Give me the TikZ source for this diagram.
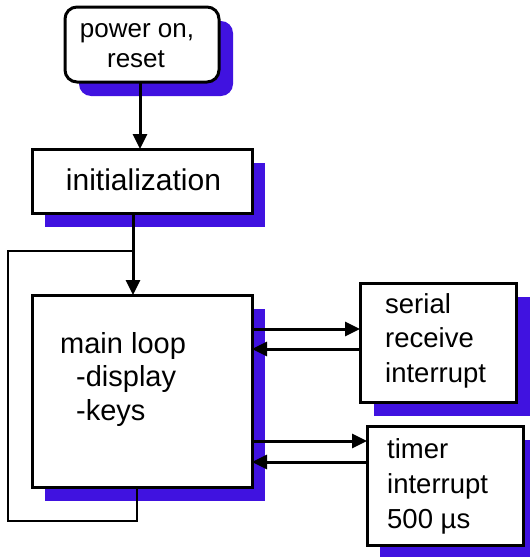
\documentclass[tikz,border=0pt]{standalone}
\usepackage{fontspec}
\setmainfont{Liberation Sans}
\usetikzlibrary{arrows.meta,backgrounds}
\definecolor{shadowblue}{RGB}{64,18,224}
\begin{document}
\begin{tikzpicture}[x=1pt,y=-1pt,
  box/.style={draw=black,line width=3pt,fill=white,inner sep=0pt,outer sep=0pt},
  arr/.style={line width=3pt,-{Triangle[length=15pt,width=14pt]}},
  loopline/.style={line width=2.3pt},
  shadowfill/.style={fill=shadowblue},
  txt/.style={inner sep=0pt,anchor=base west},
  ctxt/.style={inner sep=0pt,anchor=base}]
\useasboundingbox (0,0) rectangle (530,557);
% boxes
\node[box,rounded corners=12pt,minimum width=154pt,minimum height=75pt] (power) at (142,44.5) {};
\node[box,minimum width=220pt,minimum height=64pt] (init) at (142,181) {};
\node[box,minimum width=220pt,minimum height=192pt] (main) at (142,391) {};
\node[box,minimum width=156pt,minimum height=119pt] (serial) at (438,342.5) {};
\node[box,minimum width=156pt,minimum height=119pt] (timer) at (445,485.5) {};
% shadows
\begin{scope}[on background layer]
\fill[shadowfill,rounded corners=12pt] ([shift={(14,14)}]power.north west) rectangle ([shift={(14,14)}]power.south east);
\fill[shadowfill] ([shift={(13,14)}]init.north west) rectangle ([shift={(13,14)}]init.south east);
\fill[shadowfill] ([shift={(13,14)}]main.north west) rectangle ([shift={(13,14)}]main.south east);
\fill[shadowfill] ([shift={(14,14)}]serial.north west) rectangle ([shift={(14,14)}]serial.south east);
\fill[shadowfill] ([shift={(13,14)}]timer.north west) rectangle ([shift={(13,14)}]timer.south east);
\end{scope}
% texts
\node[ctxt,font=\fontsize{26}{30}\selectfont] (powerA) at (137,37) {power on,};
\node[ctxt,font=\fontsize{26}{30}\selectfont] (powerB) at (136,67) {reset};
\node[ctxt,font=\fontsize{30}{34}\selectfont] (initT) at (143.5,190) {initialization};
\node[txt,font=\fontsize{29}{33}\selectfont] (mainA) at (60,353) {main loop};
\node[txt,font=\fontsize{29}{33}\selectfont] (mainB) at (76,386) {-display};
\node[txt,font=\fontsize{29}{33}\selectfont] (mainC) at (76,420) {-keys};
\node[txt,font=\fontsize{27.5}{33}\selectfont] (serA) at (385,313) {serial};
\node[txt,font=\fontsize{27.5}{33}\selectfont] (serB) at (385,347) {receive};
\node[txt,font=\fontsize{27.5}{33}\selectfont] (serC) at (385,382) {interrupt};
\node[txt,font=\fontsize{27.5}{33}\selectfont] (timA) at (387,458) {timer};
\node[txt,font=\fontsize{27.5}{33}\selectfont] (timB) at (387,493) {interrupt};
\node[txt,font=\fontsize{27.5}{33}\selectfont] (timC) at (387,528) {500 µs};
% connectors
\draw[arr] ([xshift=-2pt]power.south) -- ([xshift=-2pt]init.north);
\draw[arr] ([xshift=-9pt]init.south) -- ([xshift=-9pt]main.north);
\coordinate (join) at (133,251);
\coordinate (loopTL) at (8,251);
\coordinate (loopBL) at (8,521);
\coordinate (loopBR) at (137,521);
\draw[loopline] ([xshift=-5pt]main.south) -- (loopBR) -- (loopBL) -- (loopTL) -- (join);
\coordinate (sOut) at (0,329);
\coordinate (sIn) at (0,349);
\coordinate (tOut) at (0,441);
\coordinate (tIn) at (0,462);
\draw[arr] (main.east |- sOut) -- (serial.west |- sOut);
\draw[arr] (serial.west |- sIn) -- (main.east |- sIn);
\draw[arr] (main.east |- tOut) -- (timer.west |- tOut);
\draw[arr] (timer.west |- tIn) -- (main.east |- tIn);
\end{tikzpicture}
\end{document}
